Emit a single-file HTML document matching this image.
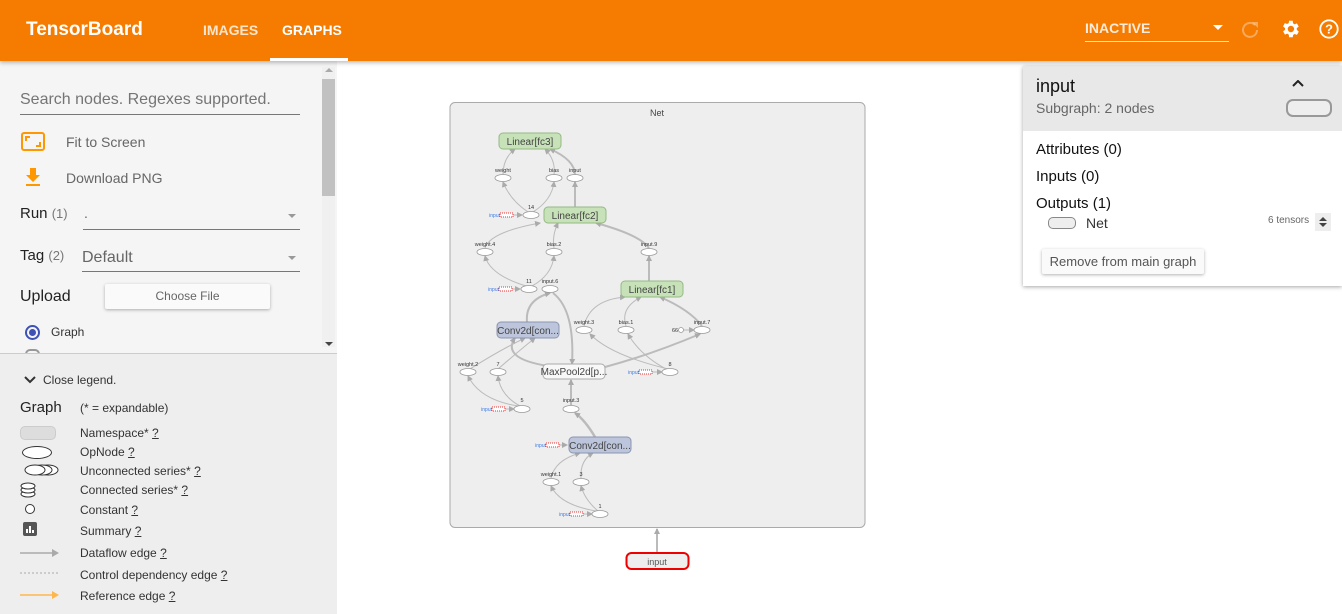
<!DOCTYPE html>
<html><head><meta charset="utf-8">
<style>
*{box-sizing:border-box;margin:0;padding:0}
body{width:1342px;height:614px;overflow:hidden;background:#fff;font-family:"Liberation Sans",Roboto,sans-serif;position:relative}
.abs{position:absolute}
#hdr{left:0;top:0;width:1342px;height:61px;background:#f57c00;box-shadow:0 2px 4px rgba(0,0,0,.25);z-index:5}
#side{left:0;top:61px;width:337px;height:292px;background:#f5f5f5}
#legend{left:0;top:353px;width:337px;height:261px;background:#eeeeee;border-top:1px solid #ccc}
.t{position:absolute;white-space:nowrap}
.u{text-decoration:underline}
</style></head><body>
<div id="hdr" class="abs">
  <div class="t" style="left:26px;top:19px;font-size:19px;color:#fff;font-weight:bold">TensorBoard</div>
  <div class="t" style="left:203px;top:22px;font-size:14px;color:rgba(255,255,255,.8);font-weight:bold">IMAGES</div>
  <div class="t" style="left:282px;top:22px;font-size:14px;color:#fff;font-weight:bold">GRAPHS</div>
  <div class="abs" style="left:270px;top:58px;width:78px;height:3px;background:#fff"></div>
  <div class="t" style="left:1085px;top:20px;font-size:14px;color:rgba(255,255,255,.85);font-weight:bold">INACTIVE</div>
  <div class="abs" style="left:1085px;top:41px;width:144px;height:1px;background:rgba(255,255,255,.8)"></div>
  <svg class="abs" style="left:1212px;top:24px" width="12" height="8"><path d="M1 1h10L6 6z" fill="#fff"/></svg>
  <svg class="abs" style="left:1240px;top:19px" width="20" height="20"><path d="M15 6A7 7 0 1 0 17 11" stroke="rgba(255,255,255,.35)" stroke-width="2" fill="none"/><path d="M12 3h6v6z" fill="rgba(255,255,255,.35)"/></svg>
  <svg class="abs" style="left:1279px;top:18px" width="22" height="22" viewBox="0 0 24 24"><path fill="#fff" d="M19.4 13a7.5 7.5 0 0 0 0-2l2.1-1.6-2-3.5-2.5 1a7 7 0 0 0-1.7-1L15 3h-4l-.4 2.6a7 7 0 0 0-1.7 1l-2.5-1-2 3.5L6.6 11a7.5 7.5 0 0 0 0 2l-2.1 1.6 2 3.5 2.5-1a7 7 0 0 0 1.7 1L11 21h4l.4-2.6a7 7 0 0 0 1.7-1l2.5 1 2-3.5zM13 15.5a3.5 3.5 0 1 1 0-7 3.5 3.5 0 0 1 0 7z"/></svg>
  <svg class="abs" style="left:1318px;top:18px" width="22" height="22" viewBox="0 0 24 24"><circle cx="12" cy="12" r="9.5" stroke="#fff" stroke-width="2" fill="none"/><text x="12" y="17" text-anchor="middle" font-size="14" font-weight="bold" fill="#fff" font-family="Liberation Sans">?</text></svg>
</div>

<div id="side" class="abs">
  <div class="t" style="left:20px;top:30px;font-size:16px;color:#757575">Search nodes. Regexes supported.</div>
  <div class="abs" style="left:20px;top:53px;width:280px;height:1px;background:#777"></div>
  <svg class="abs" style="left:21px;top:71px" width="24" height="20"><rect x="1" y="1" width="22" height="17" rx="2" fill="none" stroke="#ff9800" stroke-width="2"/><path d="M5 9V5h4M19 10v4h-4" stroke="#ff9800" stroke-width="2" fill="none"/></svg>
  <div class="t" style="left:66px;top:73px;font-size:14px;color:#666">Fit to Screen</div>
  <svg class="abs" style="left:24px;top:106px" width="18" height="20"><path d="M6 1h6v7h4l-7 7-7-7h4z M2 17h14v2H2z" fill="#ff9800"/></svg>
  <div class="t" style="left:66px;top:109px;font-size:14px;color:#666">Download PNG</div>
  <div class="t" style="left:20px;top:144px;font-size:15px;color:#222">Run <span style="color:#777;font-size:13px">(1)</span></div>
  <div class="t" style="left:84px;top:144px;font-size:14px;color:#666">.</div>
  <div class="abs" style="left:83px;top:168px;width:217px;height:1px;background:#777"></div>
  <svg class="abs" style="left:288px;top:153px" width="8" height="5"><path d="M0 0h8L4 4z" fill="#999"/></svg>
  <div class="t" style="left:20px;top:186px;font-size:15px;color:#222">Tag <span style="color:#777;font-size:13px">(2)</span></div>
  <div class="t" style="left:82px;top:188px;font-size:16px;color:#666">Default</div>
  <div class="abs" style="left:82px;top:210px;width:218px;height:1px;background:#777"></div>
  <div class="abs" style="left:288px;top:195px;width:0;height:0;border-left:4px solid transparent;border-right:4px solid transparent;border-top:4px solid #999"></div>
  <div class="t" style="left:20px;top:227px;font-size:16px;color:#222">Upload</div>
  <div class="abs" style="left:105px;top:223px;width:165px;height:25px;background:#fafafa;box-shadow:0 1px 3px rgba(0,0,0,.3);border-radius:2px;font-size:12px;color:#666;text-align:center;line-height:25px">Choose File</div>
  <div class="abs" style="left:25px;top:264px;width:15px;height:15px;border:2px solid #3f51b5;border-radius:50%"><div style="margin:2px;width:7px;height:7px;border-radius:50%;background:#3f51b5"></div></div>
  <div class="t" style="left:51px;top:264px;font-size:12px;color:#333">Graph</div>
  <div class="abs" style="left:25px;top:288px;width:15px;height:5px;border:2px solid #999;border-bottom:none;border-radius:8px 8px 0 0"></div>
  <div class="abs" style="left:322px;top:6px;width:13px;height:280px;background:#f0f0f0"></div>
  <div class="abs" style="left:322px;top:18px;width:13px;height:117px;background:#c1c1c1"></div>
  <div class="abs" style="left:325px;top:7px;border-left:4px solid transparent;border-right:4px solid transparent;border-bottom:4px solid #aaa"></div>
  <div class="abs" style="left:325px;top:281px;border-left:4px solid transparent;border-right:4px solid transparent;border-top:4px solid #444"></div>
</div>

<div id="legend" class="abs">
  <svg class="abs" style="left:24px;top:22px" width="12" height="8"><path d="M1 1l5 5 5-5" stroke="#333" stroke-width="2" fill="none"/></svg>
  <div class="t" style="left:43px;top:19px;font-size:12px;color:#333">Close legend.</div>
  <div class="t" style="left:20px;top:45px;font-size:15px;color:#222">Graph</div>
  <div class="t" style="left:80px;top:47px;font-size:12px;color:#333">(* = expandable)</div>
  <div class="abs" style="left:20px;top:72px;width:36px;height:14px;background:#ddd;border:1px solid #ccc;border-radius:5px"></div>
  <div class="t" style="left:80px;top:72px;font-size:12px;color:#333">Namespace* <span class="u">?</span></div>
  <div class="abs" style="left:22px;top:92px;width:30px;height:13px;border:1px solid #333;border-radius:50%;background:#fff"></div>
  <div class="t" style="left:80px;top:91px;font-size:12px;color:#333">OpNode <span class="u">?</span></div>
  <svg class="abs" style="left:20px;top:109px" width="40" height="14"><ellipse cx="28" cy="7" rx="10" ry="5" fill="#fff" stroke="#333"/><ellipse cx="22" cy="7" rx="10" ry="5" fill="#fff" stroke="#333"/><ellipse cx="15" cy="7" rx="10" ry="5" fill="#fff" stroke="#333"/></svg>
  <div class="t" style="left:80px;top:110px;font-size:12px;color:#333">Unconnected series* <span class="u">?</span></div>
  <svg class="abs" style="left:20px;top:128px" width="18" height="16"><ellipse cx="8" cy="12" rx="7" ry="3" fill="#fff" stroke="#333"/><ellipse cx="8" cy="8" rx="7" ry="3" fill="#fff" stroke="#333"/><ellipse cx="8" cy="4" rx="7" ry="3" fill="#fff" stroke="#333"/></svg>
  <div class="t" style="left:80px;top:129px;font-size:12px;color:#333">Connected series* <span class="u">?</span></div>
  <div class="abs" style="left:25px;top:150px;width:10px;height:10px;border:1px solid #333;border-radius:50%;background:#fff"></div>
  <div class="t" style="left:80px;top:149px;font-size:12px;color:#333">Constant <span class="u">?</span></div>
  <svg class="abs" style="left:23px;top:168px" width="14" height="14"><rect width="14" height="14" rx="2" fill="#555"/><path d="M4 11V7M7 11V4M10 11V8" stroke="#fff" stroke-width="2"/></svg>
  <div class="t" style="left:80px;top:170px;font-size:12px;color:#333">Summary <span class="u">?</span></div>
  <svg class="abs" style="left:20px;top:194px" width="40" height="10"><path d="M0 5h34" stroke="#aaa" stroke-width="1.5"/><path d="M32 1l7 4-7 4z" fill="#aaa"/></svg>
  <div class="t" style="left:80px;top:192px;font-size:12px;color:#333">Dataflow edge <span class="u">?</span></div>
  <svg class="abs" style="left:20px;top:216px" width="40" height="6"><path d="M0 3h38" stroke="#aaa" stroke-dasharray="2 2"/></svg>
  <div class="t" style="left:80px;top:214px;font-size:12px;color:#333">Control dependency edge <span class="u">?</span></div>
  <svg class="abs" style="left:20px;top:236px" width="40" height="10"><path d="M0 5h34" stroke="#ffb74d" stroke-width="1.5"/><path d="M32 1l7 4-7 4z" fill="#ffb74d"/></svg>
  <div class="t" style="left:80px;top:235px;font-size:12px;color:#333">Reference edge <span class="u">?</span></div>
</div>

<svg class="abs" style="left:0;top:0" width="1342" height="614" font-family="Liberation Sans">
<defs><marker id="a" markerUnits="userSpaceOnUse" markerWidth="6" markerHeight="6" refX="5" refY="3" orient="auto"><path d="M0 0L6 3L0 6z" fill="#aaa"/></marker></defs>
<rect x="450" y="102.5" width="415" height="425" rx="5" fill="#eeeeee" stroke="#aaa"/>
<text x="657" y="116" font-size="9" fill="#444" text-anchor="middle">Net</text>
<g stroke="#bbb" fill="none" stroke-width="1" marker-end="url(#a)">
<path d="M503 175Q503 158 515 149"/><path d="M554 175Q556 160 545 149"/><path d="M575 175Q575 160 550 149" stroke-width="2"/>
<path d="M528 212Q510 200 503 182"/><path d="M533 212Q552 200 554 182"/><path d="M575 207V182" stroke-width="2"/>
<path d="M513 215H522"/>
<path d="M485 248Q490 232 540 223"/><path d="M554 248Q552 235 558 223"/><path d="M649 248Q640 235 596 223" stroke-width="2"/>
<path d="M526 286Q490 275 485 256"/><path d="M532 286Q552 275 554 256"/><path d="M649 281V256" stroke-width="2"/>
<path d="M512 289H520"/>
<path d="M527 322Q525 300 550 293" stroke-width="2"/><path d="M553 293Q575 310 572 364" stroke-width="2"/>
<path d="M584 326Q590 300 625 297"/><path d="M626 326Q620 308 641 297"/><path d="M702 326Q690 310 660 297" stroke-width="2"/>
<path d="M684 330H694"/>
<path d="M470 369Q500 350 525 338"/><path d="M498 369Q520 350 535 338"/><path d="M555 367Q500 360 515 338" stroke-width="2"/>
<path d="M605 367Q650 355 700 334" stroke-width="2"/><path d="M668 369Q610 355 590 334"/><path d="M666 369Q640 355 628 334"/>
<path d="M652 372H662"/>
<path d="M518 406Q480 400 468 376"/><path d="M520 406Q500 395 498 376"/><path d="M505 409H514"/>
<path d="M571 405V380" stroke-width="2"/><path d="M595 437Q585 420 575 413" stroke-width="2.5"/>
<path d="M559 445H567"/>
<path d="M551 478Q555 460 580 453"/><path d="M581 478Q580 460 593 453"/>
<path d="M596 511Q560 505 551 486"/><path d="M598 511Q585 500 581 486"/><path d="M582 514H592"/>
<path d="M657 552V529" stroke-width="2"/>
</g>
<g font-size="10" text-anchor="middle">
<rect x="499" y="133" width="62" height="16" rx="4" fill="#c7e2b9" stroke="#94b984"/><text x="530" y="145" fill="#444">Linear[fc3]</text>
<rect x="544" y="207" width="62" height="16" rx="4" fill="#c7e2b9" stroke="#94b984"/><text x="575" y="219" fill="#444">Linear[fc2]</text>
<rect x="621" y="281" width="62" height="16" rx="4" fill="#c7e2b9" stroke="#94b984"/><text x="652" y="293" fill="#444">Linear[fc1]</text>
<rect x="497" y="322" width="62" height="16" rx="4" fill="#bcc5db" stroke="#8a95b0"/><text x="528" y="334" fill="#444">Conv2d[con...</text>
<rect x="569" y="437" width="62" height="16" rx="4" fill="#bcc5db" stroke="#8a95b0"/><text x="600" y="449" fill="#444">Conv2d[con...</text>
<rect x="543" y="364" width="62" height="15" rx="4" fill="#f8f8f8" stroke="#aaa"/><text x="574" y="375" fill="#444">MaxPool2d[p...</text>
<rect x="626.5" y="553" width="62" height="16" rx="5" fill="#eee" stroke="#e00" stroke-width="2"/><text x="657" y="565" fill="#555" font-size="9">input</text>
</g>
<g fill="#fff" stroke="#999" stroke-width=".8">
<ellipse cx="503" cy="178" rx="8" ry="3.5"/><ellipse cx="554" cy="178" rx="8" ry="3.5"/><ellipse cx="575" cy="178" rx="8" ry="3.5"/>
<ellipse cx="531" cy="215" rx="8" ry="3.5"/>
<ellipse cx="485" cy="252" rx="8" ry="3.5"/><ellipse cx="554" cy="252" rx="8" ry="3.5"/><ellipse cx="649" cy="252" rx="8" ry="3.5"/>
<ellipse cx="529" cy="289" rx="8" ry="3.5"/><ellipse cx="550" cy="289" rx="8" ry="3.5"/>
<ellipse cx="584" cy="330" rx="8" ry="3.5"/><ellipse cx="626" cy="330" rx="8" ry="3.5"/><ellipse cx="702" cy="330" rx="8" ry="3.5"/><circle cx="681" cy="330" r="2.5"/>
<ellipse cx="468" cy="372" rx="8" ry="3.5"/><ellipse cx="498" cy="372" rx="8" ry="3.5"/><ellipse cx="670" cy="372" rx="8" ry="3.5"/>
<ellipse cx="522" cy="409" rx="8" ry="3.5"/><ellipse cx="571" cy="409" rx="8" ry="3.5"/>
<ellipse cx="551" cy="482" rx="8" ry="3.5"/><ellipse cx="581" cy="482" rx="8" ry="3.5"/><ellipse cx="600" cy="514" rx="8" ry="3.5"/>
</g>
<g fill="#fff" stroke="#e33" stroke-width="1" stroke-dasharray="1 1">
<rect x="500" y="213" width="13" height="4"/><rect x="499" y="287" width="13" height="4"/><rect x="639" y="370" width="13" height="4"/>
<rect x="492" y="407" width="13" height="4"/><rect x="546" y="443" width="13" height="4"/><rect x="570" y="512" width="13" height="4"/>
</g>
<g font-size="5" fill="#3b78e7" text-anchor="end">
<text x="500" y="217">input</text><text x="499" y="291">input</text><text x="639" y="374">input</text>
<text x="492" y="411">input</text><text x="546" y="447">input</text><text x="570" y="516">input</text>
</g>
<g font-size="5.5" fill="#333" text-anchor="middle">
<text x="503" y="172">weight</text><text x="554" y="172">bias</text><text x="575" y="172">input</text>
<text x="531" y="209">14</text>
<text x="485" y="246">weight.4</text><text x="554" y="246">bias.2</text><text x="649" y="246">input.9</text>
<text x="529" y="283">11</text><text x="550" y="283">input.6</text>
<text x="584" y="324">weight.3</text><text x="626" y="324">bias.1</text><text x="702" y="324">input.7</text><text x="675" y="332">66</text>
<text x="468" y="366">weight.2</text><text x="498" y="366">7</text><text x="670" y="366">8</text>
<text x="522" y="402">5</text><text x="571" y="402">input.3</text>
<text x="551" y="476">weight.1</text><text x="581" y="476">3</text><text x="600" y="508">1</text>
</g>
</svg>

<div class="abs" style="left:1023px;top:66px;width:319px;height:220px;background:#fff;box-shadow:0 1px 4px rgba(0,0,0,.35)">
  <div class="abs" style="left:0;top:0;width:319px;height:65px;background:#e8e8e8"></div>
  <div class="t" style="left:13px;top:10px;font-size:18px;color:#111">input</div>
  <div class="t" style="left:13px;top:34px;font-size:14px;color:#666">Subgraph: 2 nodes</div>
  <svg class="abs" style="left:269px;top:14px" width="12" height="8"><path d="M1 6l5-5 5 5" stroke="#222" stroke-width="2" fill="none"/></svg>
  <div class="abs" style="left:263px;top:33px;width:46px;height:18px;border:2px solid #999;border-radius:7px;background:#eee"></div>
  <div class="t" style="left:13px;top:75px;font-size:15px;color:#111">Attributes (0)</div>
  <div class="t" style="left:13px;top:102px;font-size:15px;color:#111">Inputs (0)</div>
  <div class="t" style="left:13px;top:129px;font-size:15px;color:#111">Outputs (1)</div>
  <div class="abs" style="left:25px;top:151px;width:28px;height:12px;border:1px solid #888;border-radius:5px;background:#eee"></div>
  <div class="t" style="left:63px;top:149px;font-size:14px;color:#333">Net</div>
  <div class="t" style="left:245px;top:149px;font-size:10px;color:#666">6 tensors</div>
  <div class="abs" style="left:292px;top:147px;width:16px;height:18px;background:#eee"></div>
  <svg class="abs" style="left:295px;top:150px" width="10" height="12"><path d="M1 5l4-4 4 4zM1 7l4 4 4-4z" fill="#444"/></svg>
  <div class="abs" style="left:19px;top:183px;width:162px;height:25px;background:#fafafa;box-shadow:0 1px 3px rgba(0,0,0,.3);border-radius:2px;font-size:13px;color:#555;text-align:center;line-height:25px">Remove from main graph</div>
</div>
</body></html>
